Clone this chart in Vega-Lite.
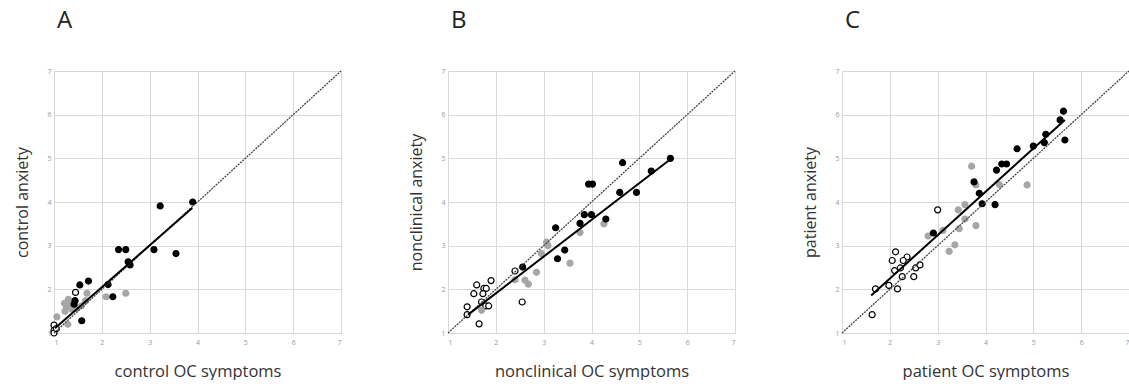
{
  "$schema": "https://vega.github.io/schema/vega-lite/v6.json",
  "padding": {"left": 13, "top": 8, "right": 0, "bottom": 0},
  "background": "#ffffff",
  "spacing": 62,
  "config": {
    "view": {"stroke": "#d9d9d9", "strokeWidth": 1},
    "axis": {
      "grid": true, "gridColor": "#d9d9d9", "gridWidth": 1, "domain": false, "ticks": false,
      "labelFontSize": 7, "labelColor": "#999999", "labelFont": "Open Sans",
      "titleFont": "Open Sans", "titleFontWeight": "normal", "titleColor": "#333333"
    },
    "axisX": {"labelPadding": 5, "titleFontSize": 16.5},
    "axisY": {"labelPadding": 3, "titleFontSize": 16},
    "title": {"font": "Open Sans", "fontSize": 24, "fontWeight": "normal", "color": "#222222"}
  },
  "datasets": {
    "diag": [{"x": 1, "y": 1}, {"x": 7, "y": 7}],
    "fits": [
      {"panel": "A", "x": 1.02, "y": 1.11}, {"panel": "A", "x": 3.89, "y": 3.86},
      {"panel": "B", "x": 1.42, "y": 1.42}, {"panel": "B", "x": 5.65, "y": 4.98},
      {"panel": "C", "x": 1.61, "y": 1.86}, {"panel": "C", "x": 5.66, "y": 5.88}
    ],
    "points": [
      {"panel": "A", "group": "open", "x": 1.45, "y": 1.93},
      {"panel": "A", "group": "open", "x": 1.0, "y": 1.18},
      {"panel": "A", "group": "open", "x": 1.0, "y": 1.06},
      {"panel": "A", "group": "open", "x": 1.0, "y": 1.0},
      {"panel": "A", "group": "open", "x": 1.05, "y": 1.1},
      {"panel": "A", "group": "open", "x": 1.4, "y": 1.72},
      {"panel": "A", "group": "gray", "x": 2.5, "y": 1.91},
      {"panel": "A", "group": "gray", "x": 2.09, "y": 1.83},
      {"panel": "A", "group": "gray", "x": 1.69, "y": 1.91},
      {"panel": "A", "group": "gray", "x": 1.3, "y": 1.77},
      {"panel": "A", "group": "gray", "x": 1.22, "y": 1.68},
      {"panel": "A", "group": "gray", "x": 1.26, "y": 1.6},
      {"panel": "A", "group": "gray", "x": 1.23, "y": 1.5},
      {"panel": "A", "group": "gray", "x": 1.36, "y": 1.66},
      {"panel": "A", "group": "gray", "x": 1.38, "y": 1.54},
      {"panel": "A", "group": "gray", "x": 1.57, "y": 1.62},
      {"panel": "A", "group": "gray", "x": 1.66, "y": 1.74},
      {"panel": "A", "group": "gray", "x": 1.06, "y": 1.37},
      {"panel": "A", "group": "gray", "x": 1.29, "y": 1.2},
      {"panel": "A", "group": "gray", "x": 1.47, "y": 1.56},
      {"panel": "A", "group": "black", "x": 3.9, "y": 4.0},
      {"panel": "A", "group": "black", "x": 3.22, "y": 3.91},
      {"panel": "A", "group": "black", "x": 2.35, "y": 2.91},
      {"panel": "A", "group": "black", "x": 2.5, "y": 2.91},
      {"panel": "A", "group": "black", "x": 3.09, "y": 2.91},
      {"panel": "A", "group": "black", "x": 3.55, "y": 2.82},
      {"panel": "A", "group": "black", "x": 2.55, "y": 2.63},
      {"panel": "A", "group": "black", "x": 2.59, "y": 2.56},
      {"panel": "A", "group": "black", "x": 2.13, "y": 2.11},
      {"panel": "A", "group": "black", "x": 2.23, "y": 1.83},
      {"panel": "A", "group": "black", "x": 1.54, "y": 2.1},
      {"panel": "A", "group": "black", "x": 1.72, "y": 2.19},
      {"panel": "A", "group": "black", "x": 1.44, "y": 1.74},
      {"panel": "A", "group": "black", "x": 1.42, "y": 1.66},
      {"panel": "A", "group": "black", "x": 1.58, "y": 1.28},

      {"panel": "B", "group": "open", "x": 1.65, "y": 1.21},
      {"panel": "B", "group": "open", "x": 1.4, "y": 1.6},
      {"panel": "B", "group": "open", "x": 1.4, "y": 1.42},
      {"panel": "B", "group": "open", "x": 1.6, "y": 2.1},
      {"panel": "B", "group": "open", "x": 1.54, "y": 1.9},
      {"panel": "B", "group": "open", "x": 1.75, "y": 2.02},
      {"panel": "B", "group": "open", "x": 1.8, "y": 2.02},
      {"panel": "B", "group": "open", "x": 1.73, "y": 1.9},
      {"panel": "B", "group": "open", "x": 1.9, "y": 2.2},
      {"panel": "B", "group": "open", "x": 1.7, "y": 1.71},
      {"panel": "B", "group": "open", "x": 1.79, "y": 1.62},
      {"panel": "B", "group": "open", "x": 1.85, "y": 1.62},
      {"panel": "B", "group": "open", "x": 2.55, "y": 1.71},
      {"panel": "B", "group": "open", "x": 2.4, "y": 2.42},
      {"panel": "B", "group": "gray", "x": 1.7, "y": 1.52},
      {"panel": "B", "group": "gray", "x": 2.4, "y": 2.22},
      {"panel": "B", "group": "gray", "x": 2.61, "y": 2.21},
      {"panel": "B", "group": "gray", "x": 2.68, "y": 2.12},
      {"panel": "B", "group": "gray", "x": 2.85, "y": 2.39},
      {"panel": "B", "group": "gray", "x": 3.06, "y": 3.08},
      {"panel": "B", "group": "gray", "x": 3.09, "y": 3.0},
      {"panel": "B", "group": "gray", "x": 2.95, "y": 2.82},
      {"panel": "B", "group": "gray", "x": 3.55, "y": 2.6},
      {"panel": "B", "group": "gray", "x": 3.76, "y": 3.3},
      {"panel": "B", "group": "gray", "x": 4.26, "y": 3.5},
      {"panel": "B", "group": "black", "x": 2.56, "y": 2.51},
      {"panel": "B", "group": "black", "x": 3.29, "y": 2.7},
      {"panel": "B", "group": "black", "x": 3.44, "y": 2.9},
      {"panel": "B", "group": "black", "x": 3.25, "y": 3.41},
      {"panel": "B", "group": "black", "x": 3.76, "y": 3.51},
      {"panel": "B", "group": "black", "x": 3.85, "y": 3.71},
      {"panel": "B", "group": "black", "x": 4.0, "y": 3.71},
      {"panel": "B", "group": "black", "x": 4.3, "y": 3.61},
      {"panel": "B", "group": "black", "x": 3.94, "y": 4.41},
      {"panel": "B", "group": "black", "x": 4.02, "y": 4.41},
      {"panel": "B", "group": "black", "x": 4.59, "y": 4.22},
      {"panel": "B", "group": "black", "x": 4.94, "y": 4.22},
      {"panel": "B", "group": "black", "x": 4.65, "y": 4.9},
      {"panel": "B", "group": "black", "x": 5.25, "y": 4.71},
      {"panel": "B", "group": "black", "x": 5.65, "y": 5.0},

      {"panel": "C", "group": "open", "x": 3.0, "y": 3.82},
      {"panel": "C", "group": "open", "x": 2.12, "y": 2.86},
      {"panel": "C", "group": "open", "x": 2.05, "y": 2.66},
      {"panel": "C", "group": "open", "x": 2.36, "y": 2.74},
      {"panel": "C", "group": "open", "x": 2.28, "y": 2.66},
      {"panel": "C", "group": "open", "x": 2.1, "y": 2.43},
      {"panel": "C", "group": "open", "x": 2.22, "y": 2.49},
      {"panel": "C", "group": "open", "x": 2.26, "y": 2.29},
      {"panel": "C", "group": "open", "x": 2.5, "y": 2.29},
      {"panel": "C", "group": "open", "x": 2.54, "y": 2.49},
      {"panel": "C", "group": "open", "x": 2.63, "y": 2.56},
      {"panel": "C", "group": "open", "x": 1.98, "y": 2.09},
      {"panel": "C", "group": "open", "x": 2.16, "y": 2.01},
      {"panel": "C", "group": "open", "x": 1.7, "y": 2.01},
      {"panel": "C", "group": "open", "x": 1.63, "y": 1.42},
      {"panel": "C", "group": "gray", "x": 3.71, "y": 4.82},
      {"panel": "C", "group": "gray", "x": 3.8, "y": 4.39},
      {"panel": "C", "group": "gray", "x": 4.87, "y": 4.39},
      {"panel": "C", "group": "gray", "x": 3.8, "y": 3.46},
      {"panel": "C", "group": "gray", "x": 3.57, "y": 3.94},
      {"panel": "C", "group": "gray", "x": 3.43, "y": 3.82},
      {"panel": "C", "group": "gray", "x": 3.57, "y": 3.61},
      {"panel": "C", "group": "gray", "x": 3.45, "y": 3.39},
      {"panel": "C", "group": "gray", "x": 3.36, "y": 3.02},
      {"panel": "C", "group": "gray", "x": 3.24, "y": 2.87},
      {"panel": "C", "group": "gray", "x": 3.11, "y": 3.35},
      {"panel": "C", "group": "gray", "x": 2.8, "y": 3.22},
      {"panel": "C", "group": "gray", "x": 4.29, "y": 4.4},
      {"panel": "C", "group": "black", "x": 2.91, "y": 3.29},
      {"panel": "C", "group": "black", "x": 3.76, "y": 4.46},
      {"panel": "C", "group": "black", "x": 3.87, "y": 4.2},
      {"panel": "C", "group": "black", "x": 3.93, "y": 3.96},
      {"panel": "C", "group": "black", "x": 4.2, "y": 3.94},
      {"panel": "C", "group": "black", "x": 4.23, "y": 4.73},
      {"panel": "C", "group": "black", "x": 4.34, "y": 4.87},
      {"panel": "C", "group": "black", "x": 4.44, "y": 4.87},
      {"panel": "C", "group": "black", "x": 4.66, "y": 5.22},
      {"panel": "C", "group": "black", "x": 5.0, "y": 5.28},
      {"panel": "C", "group": "black", "x": 5.23, "y": 5.36},
      {"panel": "C", "group": "black", "x": 5.26, "y": 5.55},
      {"panel": "C", "group": "black", "x": 5.56, "y": 5.88},
      {"panel": "C", "group": "black", "x": 5.63, "y": 6.08},
      {"panel": "C", "group": "black", "x": 5.66, "y": 5.42}
    ]
  },
  "hconcat": [
    {
      "width": 287, "height": 262,
      "title": {"text": "A", "anchor": "start", "frame": "group", "offset": 34, "dx": 3},
      "encoding": {
        "x": {"field": "x", "type": "quantitative", "scale": {"domain": [1, 7], "nice": false, "zero": false},
              "axis": {"values": [1, 2, 3, 4, 5, 6, 7], "title": "control OC symptoms", "titleX": 143.5, "titleY": 38, "titleBaseline": "middle"}},
        "y": {"field": "y", "type": "quantitative", "scale": {"domain": [1, 7], "nice": false, "zero": false},
              "axis": {"values": [1, 2, 3, 4, 5, 6, 7], "title": "control anxiety", "titleX": -32, "titleY": 131, "titleBaseline": "middle"}}
      },
      "layer": [
        {"data": {"name": "points"}, "transform": [{"filter": "datum.panel === 'A'"}],
         "mark": {"type": "point", "shape": "circle", "filled": true, "size": 36, "opacity": 1, "strokeWidth": 1.2},
         "encoding": {
           "fill": {"field": "group", "type": "nominal", "scale": {"domain": ["black", "gray", "open"], "range": ["#000000", "#a6a6a6", "#ffffff"]}, "legend": null},
           "stroke": {"field": "group", "type": "nominal", "scale": {"domain": ["black", "gray", "open"], "range": ["#000000", "#a6a6a6", "#000000"]}, "legend": null}
         }},
        {"data": {"name": "diag"}, "mark": {"type": "line", "color": "#444444", "strokeDash": [2, 1], "strokeWidth": 1.3}, "encoding": {}},
        {"data": {"name": "fits"}, "transform": [{"filter": "datum.panel === 'A'"}], "mark": {"type": "line", "color": "#000000", "strokeWidth": 2}, "encoding": {}}
      ]
    },
    {
      "width": 287, "height": 262,
      "title": {"text": "B", "anchor": "start", "frame": "group", "offset": 34, "dx": 3},
      "encoding": {
        "x": {"field": "x", "type": "quantitative", "scale": {"domain": [1, 7], "nice": false, "zero": false},
              "axis": {"values": [1, 2, 3, 4, 5, 6, 7], "title": "nonclinical OC symptoms", "titleX": 143.5, "titleY": 38, "titleBaseline": "middle"}},
        "y": {"field": "y", "type": "quantitative", "scale": {"domain": [1, 7], "nice": false, "zero": false},
              "axis": {"values": [1, 2, 3, 4, 5, 6, 7], "title": "nonclinical anxiety", "titleX": -32, "titleY": 131, "titleBaseline": "middle"}}
      },
      "layer": [
        {"data": {"name": "points"}, "transform": [{"filter": "datum.panel === 'B'"}],
         "mark": {"type": "point", "shape": "circle", "filled": true, "size": 36, "opacity": 1, "strokeWidth": 1.2},
         "encoding": {
           "fill": {"field": "group", "type": "nominal", "scale": {"domain": ["black", "gray", "open"], "range": ["#000000", "#a6a6a6", "#ffffff"]}, "legend": null},
           "stroke": {"field": "group", "type": "nominal", "scale": {"domain": ["black", "gray", "open"], "range": ["#000000", "#a6a6a6", "#000000"]}, "legend": null}
         }},
        {"data": {"name": "diag"}, "mark": {"type": "line", "color": "#444444", "strokeDash": [2, 1], "strokeWidth": 1.3}, "encoding": {}},
        {"data": {"name": "fits"}, "transform": [{"filter": "datum.panel === 'B'"}], "mark": {"type": "line", "color": "#000000", "strokeWidth": 2}, "encoding": {}}
      ]
    },
    {
      "width": 287, "height": 262,
      "title": {"text": "C", "anchor": "start", "frame": "group", "offset": 34, "dx": 3},
      "encoding": {
        "x": {"field": "x", "type": "quantitative", "scale": {"domain": [1, 7], "nice": false, "zero": false},
              "axis": {"values": [1, 2, 3, 4, 5, 6, 7], "title": "patient OC symptoms", "titleX": 143.5, "titleY": 38, "titleBaseline": "middle"}},
        "y": {"field": "y", "type": "quantitative", "scale": {"domain": [1, 7], "nice": false, "zero": false},
              "axis": {"values": [1, 2, 3, 4, 5, 6, 7], "title": "patient anxiety", "titleX": -32, "titleY": 131, "titleBaseline": "middle"}}
      },
      "layer": [
        {"data": {"name": "points"}, "transform": [{"filter": "datum.panel === 'C'"}],
         "mark": {"type": "point", "shape": "circle", "filled": true, "size": 36, "opacity": 1, "strokeWidth": 1.2},
         "encoding": {
           "fill": {"field": "group", "type": "nominal", "scale": {"domain": ["black", "gray", "open"], "range": ["#000000", "#a6a6a6", "#ffffff"]}, "legend": null},
           "stroke": {"field": "group", "type": "nominal", "scale": {"domain": ["black", "gray", "open"], "range": ["#000000", "#a6a6a6", "#000000"]}, "legend": null}
         }},
        {"data": {"name": "diag"}, "mark": {"type": "line", "color": "#444444", "strokeDash": [2, 1], "strokeWidth": 1.3}, "encoding": {}},
        {"data": {"name": "fits"}, "transform": [{"filter": "datum.panel === 'C'"}], "mark": {"type": "line", "color": "#000000", "strokeWidth": 2}, "encoding": {}}
      ]
    }
  ]
}
